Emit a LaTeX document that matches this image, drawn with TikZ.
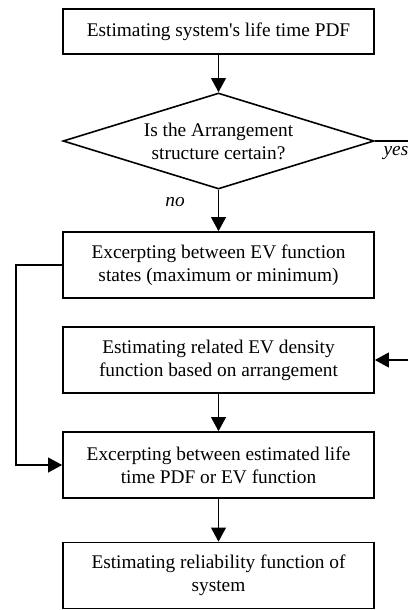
\documentclass[tikz,border=0pt]{standalone}
\usepackage{fontspec}
\setmainfont{Liberation Serif}
\usetikzlibrary{arrows.meta}
\usetikzlibrary{shapes.geometric}

\begin{document}
\begin{tikzpicture}[x=0.75pt,y=-0.75pt,->,>={Triangle[length=10.5pt,width=11pt]},
	line width=1.2pt,
	step box/.style={rectangle, draw, minimum width=233.25pt, minimum height=49.5pt,
		inner sep=0pt, align=center, font=\fontsize{14.5}{17.25}\selectfont},
	choice/.style={diamond, draw, aspect=3.24, minimum width=233.25pt, minimum height=72pt,
		inner sep=0pt, align=center, font=\fontsize{14.5}{17.25}\selectfont},
	answer/.style={font=\fontsize{14.5}{17}\selectfont\itshape}]
	
	\useasboundingbox (0,0) rectangle (408,610);
	
	\node[step box, minimum height=33.75pt] (lifetime) at (218.5,31.5) {Estimating system\textquotesingle s life time PDF};
	\node[choice] (certain) at (218.5,141) {Is the Arrangement\\structure certain?};
	\node[step box] (states) at (218.5,265) {Excerpting between EV function\\states (maximum or minimum)};
	\node[step box] (density) at (218.5,360) {Estimating related EV density\\function based on arrangement};
	\node[step box] (choose) at (218.5,465) {Excerpting between estimated life\\time PDF or EV function};
	\node[step box] (reliab) at (218.5,575.5) {Estimating reliability function of\\system};
	
	\coordinate (yes end) at (408,141);
	\coordinate (feed in) at (408,360);
	
	\draw (lifetime) -- (certain);
	\draw (certain) -- (states);
	\draw (density) -- (choose);
	\draw (choose) -- (reliab);
	\draw (states.west) -- ++(-46,0) |- (choose.west);
	\draw [-] (certain.east) -- (yes end);
	\draw (feed in) -- (density.east);
	
	\node[answer] at (396,153) {yes};
	\node[answer] at (175,202) {no};
\end{tikzpicture}
\end{document}
